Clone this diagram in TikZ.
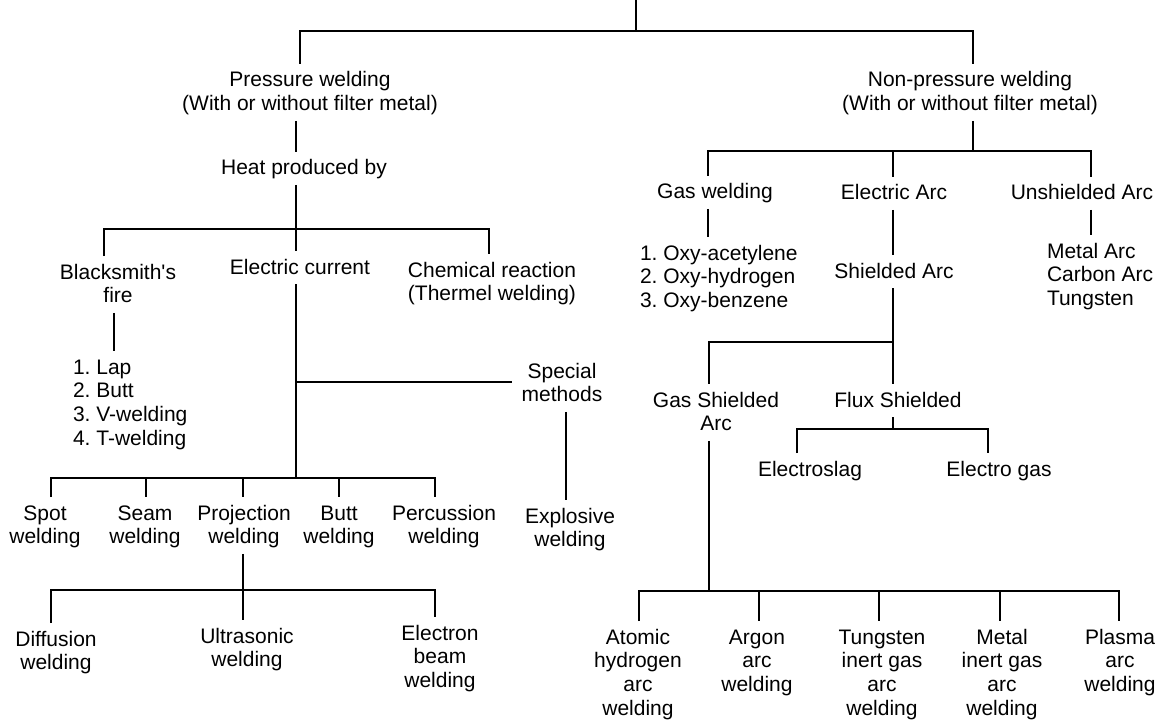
\documentclass[tikz,border=0pt]{standalone}
\usepackage{fontspec}
\setmainfont{Liberation Sans}
\frenchspacing
\newcommand\tS{\rule{0pt}{19pt}}
\newcommand\bS{\rule[-6pt]{0pt}{6pt}}
\begin{document}
\begin{tikzpicture}[x=1pt,y=-1pt,
  lbl/.style={anchor=north, yshift=23pt, inner sep=0pt, outer sep=4pt, align=center, font=\fontsize{21}{23.8}\selectfont\frenchspacing},
  lst/.style={lbl, anchor=north west, align=left},
  ln/.style={line width=2pt}]
\useasboundingbox (0,0) rectangle (1162,722);

% ---------- nodes ----------
\node[lbl] (pw)  at (310,87) {\tS Pressure welding\\(With or without filter metal)\bS};
\node[lbl] (npw) at (970,87) {\tS Non-pressure welding\\(With or without filter metal)\bS};
\node[lbl] (heat) at (304,175) {\tS Heat produced by\bS};
\node[lbl] (bs) at (118,279) {\tS Blacksmith\textquotesingle s\\fire\bS};
\node[lbl] (ec) at (300,274) {\tS Electric current\bS};
\node[lbl] (cr) at (492,277) {\tS Chemical reaction\\(Thermel welding)\bS};
\node[lst] (list1) at (69,374) {\tS 1. Lap\\2. Butt\\3. V-welding\\4. T-welding\bS};
\node[lbl] (sm) at (562,378) {\tS Special\\methods\bS};
\node[lbl] (ex) at (570,523) {\tS Explosive\\welding\bS};
\node[lbl] (spot) at (45,520) {\tS Spot\\welding\bS};
\node[lbl] (seam) at (145,520) {\tS Seam\\welding\bS};
\node[lbl] (proj) at (244,520) {\tS Projection\\welding\bS};
\node[lbl] (butt) at (339,520) {\tS Butt\\welding\bS};
\node[lbl] (perc) at (444,520) {\tS Percussion\\welding\bS};
\node[lbl] (diff) at (56,646) {\tS Diffusion\\welding\bS};
\node[lbl] (ultra) at (247,643) {\tS Ultrasonic\\welding\bS};
\node[lbl] (ebw) at (440,640) {\tS Electron\\beam\\welding\bS};

\node[lbl] (gw) at (715,199) {\tS Gas welding\bS};
\node[lbl] (ea) at (894,200) {\tS Electric Arc\bS};
\node[lbl] (ua) at (1082,200) {\tS Unshielded Arc\bS};
\node[lst] (list2) at (636,260) {\tS 1. Oxy-acetylene\\2. Oxy-hydrogen\\3. Oxy-benzene\bS};
\node[lst] (list3) at (1043,258) {\tS Metal Arc\\Carbon Arc\\Tungsten\bS};
\node[lbl] (sa) at (894,278) {\tS Shielded Arc\bS};
\node[lbl] (gsa) at (716,407) {\tS Gas Shielded\\Arc\bS};
\node[lbl] (fs) at (898,407) {\tS Flux Shielded\bS};
\node[lbl] (es) at (810,476) {\tS Electroslag\bS};
\node[lbl] (eg) at (999,476) {\tS Electro gas\bS};
\node[lbl] (ahw) at (638,644) {\tS Atomic\\hydrogen\\arc\\welding\bS};
\node[lbl] (aaw) at (757,644) {\tS Argon\\arc\\welding\bS};
\node[lbl] (tig) at (882,644) {\tS Tungsten\\inert gas\\arc\\welding\bS};
\node[lbl] (mig) at (1002,644) {\tS Metal\\inert gas\\arc\\welding\bS};
\node[lbl] (paw) at (1120,644) {\tS Plasma\\arc\\welding\bS};

% ---------- junctions ----------
\coordinate (top) at (636,0);
\coordinate (j0) at (636,31); \coordinate (j0l) at (300,31); \coordinate (j0r) at (973,31);
\coordinate (j1) at (296,229); \coordinate (j1l) at (104,229); \coordinate (j1r) at (489,229);
\coordinate (xbs) at (114,300);
\coordinate (jsm) at (296,382);
\coordinate (smw) at ([xshift=-6pt]sm.west);
\coordinate (j2) at (296,478);
\coordinate (j2a) at (51,478); \coordinate (j2b) at (146,478); \coordinate (j2c) at (243,478);
\coordinate (j2d) at (339,478); \coordinate (j2e) at (435,478);
\coordinate (xsm) at (566,450);
\coordinate (j3) at (243,590); \coordinate (j3l) at (51,590); \coordinate (j3r) at (435,590);
\coordinate (j4) at (973,151); \coordinate (j4l) at (708,151); \coordinate (j4m) at (893,151); \coordinate (j4r) at (1091,151);
\coordinate (j5) at (893,342); \coordinate (j5l) at (709,342);
\coordinate (j6) at (893,429); \coordinate (j6l) at (797,429); \coordinate (j6r) at (988,429);
\coordinate (j7) at (709,591);
\coordinate (j7a) at (639,591); \coordinate (j7b) at (759,591); \coordinate (j7c) at (879,591);
\coordinate (j7d) at (1000,591); \coordinate (j7e) at (1119,591);

% ---------- connectors ----------
\draw[ln] (top) -- (j0);
\draw[ln] (j0l |- pw.north) -- (j0l) -- (j0r) -- (j0r |- npw.north);
\draw[ln] (j1 |- pw.south) -- (j1 |- heat.north);
\draw[ln] (j1 |- heat.south) -- (j1 |- ec.north);
\draw[ln] (j1l |- bs.north) -- (j1l) -- (j1r) -- (j1r |- cr.north);
\draw[ln] (xbs |- bs.south) -- (xbs |- list1.north);
\draw[ln] (j2 |- ec.south) -- (j2);
\draw[ln] (jsm) -- (jsm -| smw);
\draw[ln] (j2a |- spot.north) -- (j2a) -- (j2e) -- (j2e |- perc.north);
\draw[ln] (j2b) -- (j2b |- seam.north);
\draw[ln] (j2c) -- (j2c |- proj.north);
\draw[ln] (j2d) -- (j2d |- butt.north);
\draw[ln] (xsm |- sm.south) -- (xsm |- ex.north);
\draw[ln] (j3 |- proj.south) -- (j3) -- (j3 |- ultra.north);
\draw[ln] (j3l |- diff.north) -- (j3l) -- (j3r) -- (j3r |- ebw.north);

\draw[ln] (j4 |- npw.south) -- (j4);
\draw[ln] (j4l |- gw.north) -- (j4l) -- (j4r) -- (j4r |- ua.north);
\draw[ln] (j4m) -- (j4m |- ea.north);
\draw[ln] (j4l |- gw.south) -- (j4l |- list2.north);
\draw[ln] (j4r |- ua.south) -- (j4r |- list3.north);
\draw[ln] (j4m |- ea.south) -- (j4m |- sa.north);
\draw[ln] (j5 |- sa.south) -- (j5 |- fs.north);
\draw[ln] (j5) -- (j5l) -- (j5l |- gsa.north);
\draw[ln] (j6 |- fs.south) -- (j6);
\draw[ln] (j6l |- es.north) -- (j6l) -- (j6r) -- (j6r |- eg.north);
\draw[ln] (j7 |- gsa.south) -- (j7);
\draw[ln] (j7a |- ahw.north) -- (j7a) -- (j7e) -- (j7e |- paw.north);
\draw[ln] (j7b) -- (j7b |- aaw.north);
\draw[ln] (j7c) -- (j7c |- tig.north);
\draw[ln] (j7d) -- (j7d |- mig.north);
\end{tikzpicture}
\end{document}
